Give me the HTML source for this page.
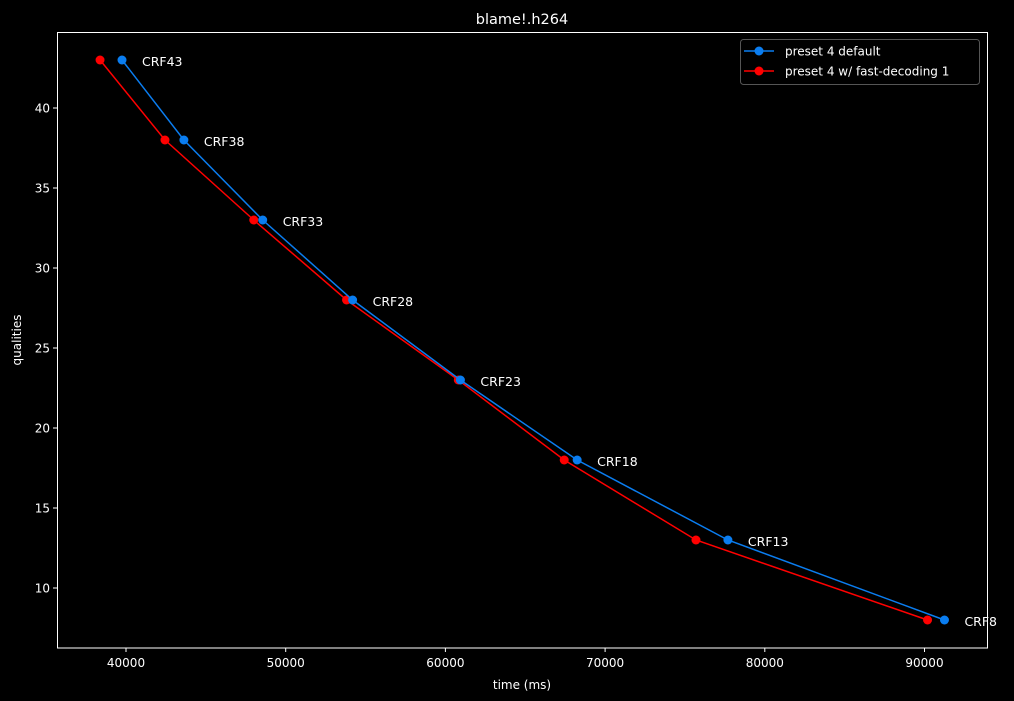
<!DOCTYPE html>
<html><head><meta charset="utf-8"><style>
body{margin:0;background:#000;}
svg{display:block;font-family:"DejaVu Sans","Liberation Sans",sans-serif;}
</style></head><body>
<svg id="chart" width="1014" height="701" xmlns="http://www.w3.org/2000/svg">
<rect width="1014" height="701" fill="#000"/>
<text x="522" y="24" fill="#fff" font-size="14.5" text-anchor="middle">blame!.h264</text>
<g id="grid"></g>
<g id="series"></g>
<rect x="57.5" y="32.5" width="930" height="615.5" fill="none" stroke="#fff" stroke-width="1"/>
<text x="522" y="689" fill="#fff" font-size="12" text-anchor="middle">time (ms)</text>
<text transform="translate(21,340) rotate(-90)" fill="#fff" font-size="12" text-anchor="middle">qualities</text>
<g>
<rect x="740.5" y="39.5" width="239" height="45" rx="3" fill="#000" stroke="#555" stroke-width="1"/>
<line x1="744" y1="51" x2="774" y2="51" stroke="#0a7df0" stroke-width="1.5"/><circle cx="759" cy="51" r="4.5" fill="#0a7df0"/>
<text x="785" y="55.5" fill="#fff" font-size="12">preset 4 default</text>
<line x1="744" y1="71" x2="774" y2="71" stroke="#f00" stroke-width="1.5"/><circle cx="759" cy="71" r="4.5" fill="#f00"/>
<text x="785" y="75.5" fill="#fff" font-size="12">preset 4 w/ fast-decoding 1</text>
</g>
</svg>
<script>
const qualities=[43,38,33,28,23,18,13,8];
const labels=["CRF43","CRF38","CRF33","CRF28","CRF23","CRF18","CRF13","CRF8"];
const timeDefault=[39750,43625,48560,54190,60940,68250,77690,91250];
const timeFast=[38375,42440,48000,53810,60810,67440,75690,90190];
const xTicks=[40000,50000,60000,70000,80000,90000];
const yTicks=[10,15,20,25,30,35,40];
const NS="http://www.w3.org/2000/svg";
const X=v=>126+(v-40000)*0.01597;
const Y=v=>108+(40-v)*16;
function mk(t,a,p){const e=document.createElementNS(NS,t);for(const k in a)e.setAttribute(k,a[k]);p.appendChild(e);return e;}
const g=document.getElementById('grid');
xTicks.forEach(v=>{
 const l=mk('line',{x1:X(v),x2:X(v),y1:648,y2:652,stroke:'#fff'},g);
 
 
 const t=mk('text',{x:X(v),y:667,fill:'#fff','font-size':12,'text-anchor':'middle'},g);t.textContent=v;
 
 
});
yTicks.forEach(v=>{
 const l=mk('line',{x1:53,x2:57.5,y1:Y(v),y2:Y(v),stroke:'#fff'},g);
 
 
 const t=mk('text',{x:50,y:Y(v)+4.5,fill:'#fff','font-size':12,'text-anchor':'end'},g);t.textContent=v;
 
 
});
const s=document.getElementById('series');
function draw(xs,color,name){
 const p=mk('polyline',{points:xs.map((x,i)=>X(x)+','+Y(qualities[i])).join(' '),fill:'none',stroke:color,'stroke-width':1.5},s);
 
 
 xs.forEach((x,i)=>{
  const c=mk('circle',{cx:X(x),cy:Y(qualities[i]),r:4.5,fill:color},s);
  
  
 });
}
draw(timeFast,'#f00','fast-decoding');
draw(timeDefault,'#0a7df0','default');
timeDefault.forEach((x,i)=>{
 const t=mk('text',{x:X(x)+20,y:Y(qualities[i])+6,fill:'#fff','font-size':12.5},s);t.textContent=labels[i];
 
 
});
</script>
</body></html>
